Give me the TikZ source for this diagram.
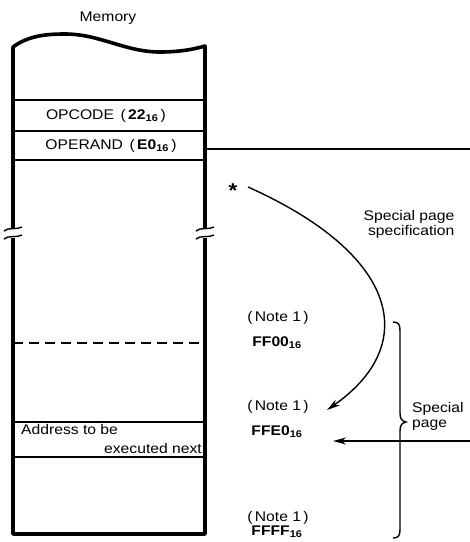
\documentclass[tikz,border=0pt]{standalone}
\usepackage{fontspec}
\setmainfont{Liberation Sans}[FakeStretch=1.12]
\usetikzlibrary{arrows.meta}
\newcommand{\hexsub}[1]{\textsubscript{\bfseries #1}}
\tikzset{
  memline/.style={line width=3.6pt, line join=round},
  row/.style={line width=1.2pt},
  brk/.style={line width=1.4pt},
  link/.style={line width=1.4pt},
  arr/.style={line width=1.4pt, -{Stealth[length=13pt, width=7pt, inset=4pt]}},
  txt/.style={inner sep=0pt, font=\fontsize{14}{16}\selectfont},
  note/.style={txt, align=center}
}
\begin{document}
\begin{tikzpicture}[x=1pt, y=-1pt]
  \useasboundingbox (0,0) rectangle (470,542);
  % memory block
  \node[txt] (mem) at (108,18) {Memory};
  \draw[memline] (13,228) -- (13,47) .. controls (28,36) and (45,34) .. (65,34)
    .. controls (100,34) and (125,52) .. (160,52) .. controls (180,52) and (195,49) .. (205,46) -- (205,228);
  \draw[memline] (13,238) -- (13,534) -- (205,534) -- (205,238);
  % break marks
  \foreach \bx in {13,205}{
    \draw[brk] (\bx-9,231) .. controls (\bx-5,227) and (\bx+4,230) .. (\bx+9,227);
    \draw[brk] (\bx-9,239) .. controls (\bx-5,235) and (\bx+4,238) .. (\bx+9,235);
  }
  % rows
  \draw[row] (13,100) -- (205,100);
  \draw[row] (13,131) -- (205,131);
  \draw[row] (13,160) -- (205,160);
  \draw[row, dash pattern=on 10pt off 6pt] (13,343) -- (205,343);
  \draw[row] (13,422) -- (205,422);
  \draw[row] (13,457) -- (205,457);
  \node[txt] (opc) at (106,116) {OPCODE\ \,(\,\textbf{22}\hexsub{16}\,)};
  \node[txt] (opr) at (111,146) {OPERAND\ \,(\,\textbf{E0}\hexsub{16}\,)};
  \node[txt, anchor=west] (adr) at (21,429) {Address to be};
  \node[txt, anchor=east] (exn) at (202,448) {executed next};
  % operand line
  \coordinate (oprE) at (207,149);
  \coordinate (oprR) at (470,149);
  \draw[link] (oprE) -- (oprR);
  % special page specification
  \node[txt, font=\fontsize{20}{20}\selectfont\bfseries] (star) at (233,191) {*};
  \coordinate (tipA) at (327,410);
  \draw[arr] (248,187) .. controls (400,255) and (420,345) .. (tipA);
  \node[note, align=right] (spec) at (409,224) {Special page\\[-1pt]\hspace*{1pt}specification};
  % addresses
  \node[note] (nA) at (278,318) {(\,Note 1\,)};
  \node[note] (hA) at (277,343) {\textbf{FF00}\hexsub{16}};
  \node[note] (nB) at (278,407) {(\,Note 1\,)};
  \node[note] (hB) at (277,432) {\textbf{FFE0}\hexsub{16}};
  \node[note] (nC) at (278,518) {(\,Note 1\,)};
  \node[note] (hC) at (277,532) {\textbf{FFFF}\hexsub{16}};
  % special page brace
  \draw[link] (393,322) .. controls (399,322) and (400,325) .. (400,331) -- (400,413)
    .. controls (400,419) and (402,421) .. (406,422) .. controls (402,423) and (400,425) .. (400,431)
    -- (400,529) .. controls (400,535) and (399,538) .. (393,538);
  \node[txt, anchor=west, align=left] (spg) at (412,416) {Special\\[-1pt]page};
  \coordinate (pgR) at (470,441);
  \coordinate (tipB) at (333,441);
  \draw[arr] (pgR) -- (tipB);
\end{tikzpicture}
\end{document}
